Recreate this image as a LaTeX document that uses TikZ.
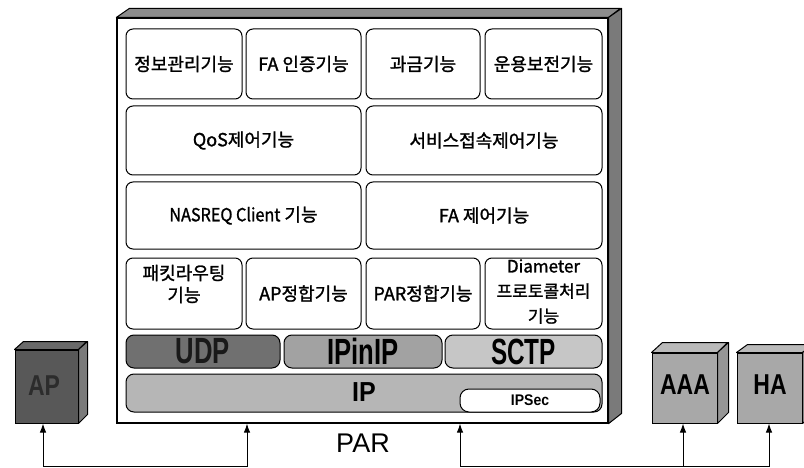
\documentclass[tikz,border=0pt]{standalone}
\usepackage{fontspec}
\setmainfont{Liberation Sans}
\newfontfamily\kr[FakeBold=1.4]{Noto Sans CJK KR}
\usetikzlibrary{arrows.meta}
\definecolor{udpc}{HTML}{707070}
\definecolor{ipinipc}{HTML}{A2A2A2}
\definecolor{sctpc}{HTML}{C6C6C6}
\definecolor{ipc}{HTML}{B6B6B6}
\definecolor{partop}{HTML}{8C8C8C}
\definecolor{parside}{HTML}{7A7A7A}
\definecolor{apfront}{HTML}{585858}
\definecolor{aptop}{HTML}{6A6A6A}
\definecolor{apside}{HTML}{7A7A7A}
\definecolor{aptext}{HTML}{2C2C2C}
\definecolor{hafront}{HTML}{A8A8A8}
\definecolor{hatop}{HTML}{BABABA}
\definecolor{haside}{HTML}{969696}
\begin{document}
\begin{tikzpicture}[x=1pt,y=-1pt,
  fbox/.style={draw, line width=1pt, rounded corners=7pt, fill=white, inner sep=0pt,
    font=\kr\fontsize{18}{22}\selectfont, align=center},
  ktext/.style={inner sep=0pt, font=\kr\fontsize{18}{22}\selectfont, align=center},
  pbox/.style={draw, line width=1pt, rounded corners=8pt, inner sep=0pt},
  bigtxt/.style={font=\bfseries\fontsize{27}{27}\selectfont},
  cubetxt/.style={font=\bfseries\fontsize{23}{23}\selectfont},
  face/.style={draw, line width=1pt, line join=round},
  conn/.style={line width=1pt},
  tip/.tip={Latex[length=9pt,width=6.5pt]},
]
\useasboundingbox (0,0) rectangle (804,468);

% PAR block
\node[draw, line width=1.2pt, fill=white, minimum width=491pt, minimum height=405pt, inner sep=0pt] (par) at (362.5,220.5) {};
\draw[face, fill=partop] (par.north west) -- ++(13,-9) -- ++(491,0) -- (par.north east) -- cycle;
\draw[face, fill=parside] (par.north east) -- ++(13,-9) -- ++(0,405) -- (par.south east) -- cycle;

% row 1
\node[fbox, minimum width=116pt, minimum height=70pt] (r1a) at (184,64) {정보관리기능};
\node[fbox, minimum width=115pt, minimum height=70pt] (r1b) at (303.5,64) {FA 인증기능};
\node[fbox, minimum width=114pt, minimum height=70pt] (r1c) at (423,64) {과금기능};
\node[fbox, minimum width=117pt, minimum height=70pt] (r1d) at (543.5,64) {운용보전기능};
% row 2
\node[fbox, minimum width=235pt, minimum height=69pt] (r2a) at (243.5,140.5) {QoS제어기능};
\node[fbox, minimum width=236pt, minimum height=69pt] (r2b) at (484,140.5) {서비스접속제어기능};
% row 3
\node[fbox, minimum width=235pt, minimum height=67pt] (r3a) at (243.5,215.5) {\scalebox{0.9}[1]{NASREQ Client} 기능};
\node[fbox, minimum width=236pt, minimum height=67pt] (r3b) at (484,215.5) {FA 제어기능};
% row 4
\node[fbox, minimum width=116pt, minimum height=71pt] (r4a) at (184,293.5) {};
\node[ktext] (r4at) at (184,284) {패킷라우팅\\기능};
\node[fbox, minimum width=115pt, minimum height=71pt] (r4b) at (303.5,293.5) {AP정합기능};
\node[fbox, minimum width=114pt, minimum height=71pt] (r4c) at (423,293.5) {PAR정합기능};
\node[fbox, minimum width=117pt, minimum height=71pt] (r4d) at (543.5,293.5) {};
\node[ktext, font=\kr\fontsize{17}{25}\selectfont] (r4dt) at (543.5,291.5) {Diameter\\프로토콜처리\\기능};

% protocol rows
\node[pbox, fill=udpc, minimum width=154pt, minimum height=33pt] (udp) at (203,351.5) {};
\node[bigtxt, text=black!90] (udpt) at (udp.center) {\scalebox{0.95}[1.35]{UDP}};
\node[pbox, fill=ipinipc, minimum width=158pt, minimum height=33pt] (ipinip) at (363,351.5) {};
\node[bigtxt] (ipinipt) at (ipinip.center) {\scalebox{0.95}[1.35]{IPinIP}};
\node[pbox, fill=sctpc, minimum width=157pt, minimum height=33pt] (sctp) at (523.5,351.5) {};
\node[bigtxt] (sctpt) at (sctp.center) {\scalebox{0.9}[1.35]{SCTP}};

\node[pbox, fill=ipc, minimum width=476pt, minimum height=38pt] (ip) at (364,393) {};
\node[bigtxt, font=\bfseries\fontsize{25}{25}\selectfont] (ipt) at (364,392) {\scalebox{1}[1.1]{IP}};
\node[pbox, fill=white, rounded corners=9pt, minimum width=140pt, minimum height=23pt,
  font=\bfseries\fontsize{14}{14}\selectfont] (ipsec) at (530,400.5) {\scalebox{1}[1.1]{IPSec}};

\node[font=\fontsize{27}{27}\selectfont, inner sep=0pt] (parlbl) at (363,443) {PAR};

% AP cube
\node[draw, line width=1pt, fill=apfront, minimum width=63pt, minimum height=73pt, inner sep=0pt] (ap) at (46.5,386.5) {};
\draw[face, fill=aptop] (ap.north west) -- ++(9,-8) -- ++(63,0) -- (ap.north east) -- cycle;
\draw[face, fill=apside] (ap.north east) -- ++(9,-8) -- ++(0,73) -- (ap.south east) -- cycle;
\node[cubetxt, text=aptext] (apt) at (44,386) {\scalebox{1}[1.25]{AP}};

% AAA cube
\node[draw, line width=1pt, fill=hafront, minimum width=65pt, minimum height=70pt, inner sep=0pt] (aaa) at (684.5,388) {};
\draw[face, fill=hatop] (aaa.north west) -- ++(11,-10) -- ++(65,0) -- (aaa.north east) -- cycle;
\draw[face, fill=haside] (aaa.north east) -- ++(11,-10) -- ++(0,70) -- (aaa.south east) -- cycle;
\node[cubetxt] (aaat) at (685,385) {\scalebox{1}[1.25]{AAA}};

% HA cube
\node[draw, line width=1pt, fill=hafront, minimum width=65pt, minimum height=70pt, inner sep=0pt] (ha) at (769.5,388) {};
\draw[face, fill=hatop] (ha.north west) -- ++(11,-8) -- ++(65,0) -- (ha.north east) -- cycle;
\draw[face, fill=haside] (ha.north east) -- ++(11,-8) -- ++(0,70) -- (ha.south east) -- cycle;
\node[cubetxt] (hat) at (770,385) {\scalebox{1}[1.25]{HA}};

% connectors
\coordinate (b1) at (43,466);
\coordinate (b2) at (247,466);
\coordinate (b3) at (460,466);
\coordinate (b4) at (683,466);
\coordinate (b5) at (769,466);
\draw[conn, tip-tip] (b1 |- ap.south) -- (b1) -- (b2) -- (b2 |- par.south);
\draw[conn, tip-tip] (b3 |- par.south) -- (b3) -- (b5) -- (b5 |- ha.south);
\draw[conn, -tip] (b4) -- (b4 |- aaa.south);
\end{tikzpicture}
\end{document}
